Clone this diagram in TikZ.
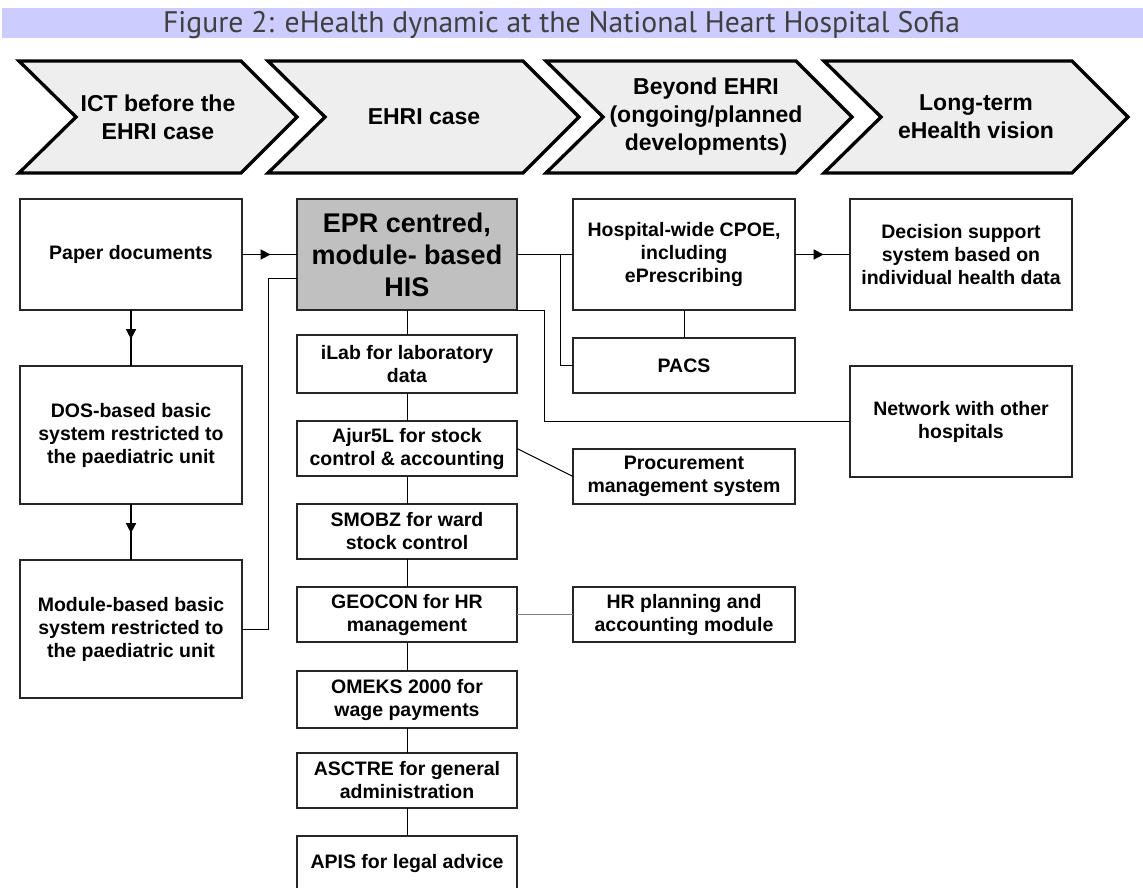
\documentclass[tikz,border=0pt]{standalone}
\usepackage{fontspec}
\setsansfont{Liberation Sans}
\newfontfamily\titlefont{PT Sans}
\usetikzlibrary{arrows.meta,decorations.markings}

\definecolor{titlebar}{HTML}{CCCCFF}
\definecolor{titlegray}{HTML}{404040}
\definecolor{phasefill}{HTML}{EEEEEE}
\definecolor{eprfill}{HTML}{C0C0C0}

\tikzset{
  box/.style={draw=black!85, line width=1.1pt, fill=white, align=center,
    inner sep=0pt, outer sep=0pt, font=\sffamily\bfseries\fontsize{19.5}{23}\selectfont},
  bigbox/.style={box, minimum width=222pt, minimum height=111pt},
  tallbox/.style={box, minimum width=222pt, minimum height=138pt},
  smallbox/.style={box, minimum width=220pt, minimum height=55pt},
  sidebox/.style={box, minimum width=222pt, minimum height=55pt},
  conn/.style={draw=black, line width=1pt},
  midarrow/.style={draw=black, line width=1.6pt, postaction={decorate},
    decoration={markings, mark=at position 0.52 with {\arrow{Triangle[length=10pt,width=10pt]}}}},
}

\begin{document}
\begin{tikzpicture}[x=1pt,y=-1pt]
	\useasboundingbox (0,0) rectangle (1143,887);
	\fill[white] (0,0) rectangle (1143,887);

	% title bar
	\fill[titlebar] (2,8) rectangle (1143,38);
	\node[anchor=base, text=titlegray, font=\titlefont\fontsize{29.7}{32}\selectfont] (title) at (561.5,32)
		{Figure 2: eHealth dynamic at the National Heart Hospital Sofia};

	% phases
	\foreach \lx/\tx/\cx/\txt [count=\i] in {19/297/158/{ICT before the\\EHRI case}, 268/579/424/{EHRI case},
		546/852/706/{Beyond EHRI\\(ongoing/planned\\developments)}, 824/1128/976/{Long-term\\eHealth vision}} {
		\draw[line width=3.3pt, fill=phasefill] (\lx,61) -- (\tx-56,61) -- (\tx,117) -- (\tx-56,173)
			-- (\lx,173) -- (\lx+57,117) -- cycle;
		\node[align=center, font=\sffamily\bfseries\fontsize{23}{28}\selectfont] (ph\i) at (\cx,117) {\txt};
	}

	% before the EHRI case
	\node[bigbox] (paper) at (131,254.5) {Paper documents};
	\node[tallbox] (dos) at (131,435) {DOS-based basic\\system restricted to\\the paediatric unit};
	\node[tallbox] (mod) at (131,629) {Module-based basic\\system restricted to\\the paediatric unit};

	% EHRI case
	\node[bigbox, minimum width=220pt, fill=eprfill, font=\sffamily\bfseries\fontsize{27}{32}\selectfont]
		(epr) at (407,254.5) {EPR centred,\\module- based\\HIS};
	\node[smallbox, minimum height=58pt] (ilab) at (407,364) {iLab for laboratory\\data};
	\node[smallbox] (ajur) at (407,448.5) {Ajur5L for stock\\control \& accounting};
	\node[smallbox] (smobz) at (407,531.5) {SMOBZ for ward\\stock control};
	\node[smallbox] (geocon) at (407,614.5) {GEOCON for HR\\management};
	\node[smallbox, minimum height=57pt] (omeks) at (407,699.5) {OMEKS 2000 for\\wage payments};
	\node[smallbox] (asctre) at (407,780.5) {ASCTRE for general\\administration};
	\node[smallbox] (apis) at (407,863.5) {APIS for legal advice};

	% beyond EHRI
	\node[bigbox] (cpoe) at (684,254.5) {Hospital-wide CPOE,\\including\\ePrescribing};
	\node[sidebox] (pacs) at (684,365.5) {PACS};
	\node[sidebox] (proc) at (684,476.5) {Procurement\\management system};
	\node[sidebox] (hrp) at (684,614.5) {HR planning and\\accounting module};

	% long-term vision
	\node[bigbox] (dec) at (961,254.5) {Decision support\\system based on\\individual health data};
	\node[bigbox] (net) at (961,421.5) {Network with other\\hospitals};

	% connectors
	\draw[midarrow] (paper) -- (epr);
	\draw[midarrow] (paper) -- (dos);
	\draw[midarrow] (dos) -- (mod);
	\coordinate (modbend) at (268,278);
	\draw[conn] (mod.east) -| (modbend) -- (modbend -| epr.west);

	\foreach \a/\b in {epr/ilab, ilab/ajur, ajur/smobz, smobz/geocon, geocon/omeks, omeks/asctre, asctre/apis}
		\draw[conn] (\a) -- (\b);

	\coordinate (eprjoin) at (560,254.5);
	\draw[conn, line width=1.8pt] (epr.east) -- (eprjoin);
	\draw[conn] (eprjoin) -- (cpoe.west);
	\draw[conn] (eprjoin) |- (pacs.west);
	\draw[conn] (cpoe) -- (pacs);
	\draw[conn] (epr.south east) -- ++(27,0) |- (net.west);
	\draw[midarrow] (cpoe) -- (dec);
	\draw[conn] (ajur.east) -- (proc.west);
	\draw[conn, draw=gray] (geocon) -- (hrp);

\end{tikzpicture}
\end{document}
